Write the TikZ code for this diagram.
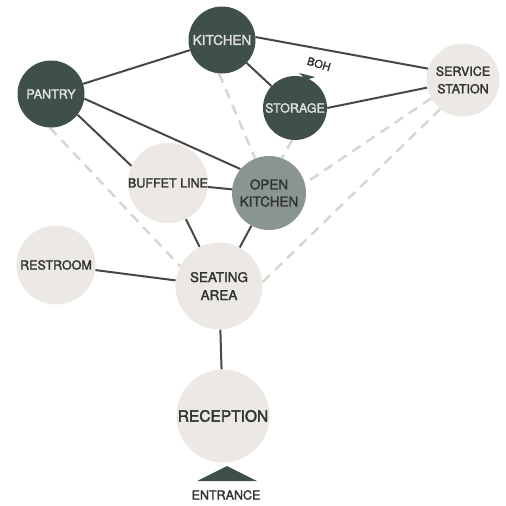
\documentclass[tikz,border=0pt]{standalone}
\usepackage{fontspec}
\setmainfont{TeX Gyre Heros}[FakeBold=2]
\usepackage{tikz}
\usetikzlibrary{backgrounds}
\definecolor{forest}{RGB}{62,80,73}
\definecolor{slate}{RGB}{138,148,144}
\definecolor{sand}{RGB}{236,232,228}
\definecolor{ink}{RGB}{48,52,50}
\definecolor{haze}{RGB}{214,214,210}
\tikzset{
  room/.style={circle,inner sep=0pt,align=center,font=\fontsize{12.5}{17.5}\selectfont},
  backroom/.style={room,fill=forest,text=white!88!black},
  openroom/.style={room,fill=slate,text=ink},
  frontroom/.style={room,fill=sand,text=ink},
  link/.style={draw=ink!90,line width=2pt},
  sightline/.style={draw=haze,line width=2.5pt,dash pattern=on 10pt off 7pt}
}

\begin{document}
\begin{tikzpicture}[x=1pt,y=-1pt]
\useasboundingbox (0,0) rectangle (506,506);
% rooms
\node[backroom,minimum size=67pt,font=\fontsize{13.5}{17.5}\selectfont] (kitchen) at (222,40) {KITCHEN};
\node[backroom,minimum size=67pt] (pantry) at (51,94) {PANTRY};
\node[backroom,minimum size=64pt] (storage) at (295,108) {STORAGE};
\node[frontroom,minimum size=73pt] (service) at (463,80) {SERVICE\\STATION};
\node[frontroom,minimum size=79pt] (buffet) at (168,183) {BUFFET LINE};
\node[openroom,minimum size=74pt,font=\fontsize{13.5}{17}\selectfont] (open) at (269,193) {OPEN\\KITCHEN};
\node[frontroom,minimum size=79pt] (restroom) at (56,265) {RESTROOM};
\node[frontroom,minimum size=87pt,font=\fontsize{13.5}{18}\selectfont] (seating) at (219,286) {SEATING\\AREA};
\node[frontroom,minimum size=93pt,font=\fontsize{15.5}{18}\selectfont] (reception) at (223,416) {RECEPTION};
\node[text=ink,font=\fontsize{12.5}{14}\selectfont] (entrance) at (226,495) {ENTRANCE};
\node[text=ink,rotate=-17,inner sep=0pt,font=\fontsize{11}{13}\selectfont] (boh) at (319,64) {BOH};
% entrance and BOH marks
\fill[forest] (197,481) -- (227,466) -- (257,481) -- cycle;
\fill[forest] (299,73) -- (315,77) -- (306,80) -- cycle;
\begin{scope}[on background layer]
% sight lines
\draw[sightline] (pantry.-92) -- (seating.153);
\draw[sightline] (kitchen.-95) -- (open.112);
\draw[sightline] (storage.-95) -- (open.70);
\draw[sightline] (service.-150) -- (open.15);
\draw[sightline] (service.-128) -- (seating.5);
% links
\draw[link] (kitchen) -- (pantry);
\draw[link] (kitchen.5) -- (service.162);
\draw[link] (kitchen) -- (storage);
\draw[link] (storage.0) -- (service.-168);
\draw[link] (pantry.-38) -- (buffet.155);
\draw[link] (pantry.-8) -- (open.140);
\draw[link] (buffet) -- (open);
\draw[link] (buffet) -- (seating);
\draw[link] (open) -- (seating);
\draw[link] (restroom) -- (seating);
\draw[link] (seating) -- (reception);
\end{scope}
\end{tikzpicture}
\end{document}
